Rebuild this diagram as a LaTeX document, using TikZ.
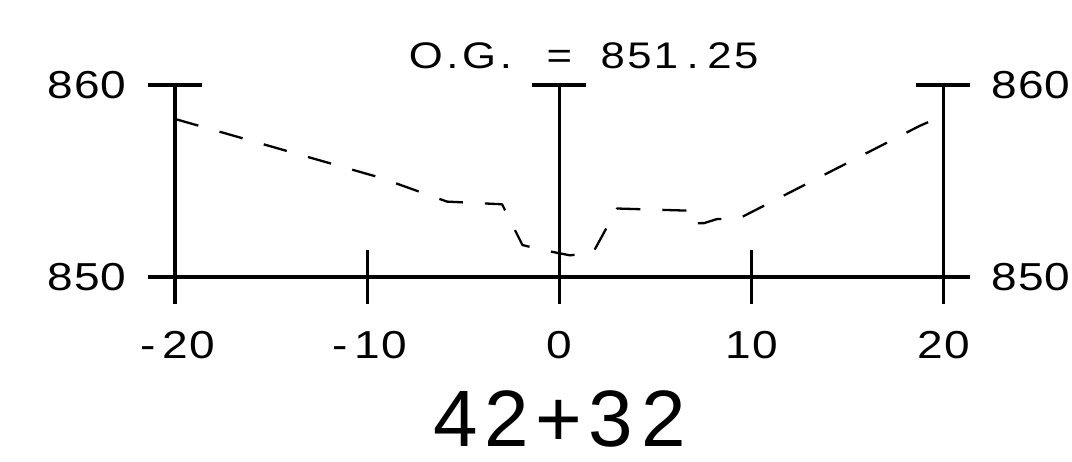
\documentclass[tikz,border=0pt]{standalone}
\usepackage{fontspec}
\setmainfont{Liberation Sans}
\newfontfamily\cadwide[FakeStretch=1.18]{Liberation Sans}
\newlength\cadpitch
\newcommand\cadloop[1]{\ifx#1\relax\else\makebox[\cadpitch]{#1}\expandafter\cadloop\fi}
\newcommand\cadtext[2]{\setlength\cadpitch{#1}\cadloop#2\relax}
\begin{document}
\begin{tikzpicture}[x=9.6pt,y=9.6pt,
  axisline/.style={line width=1.8pt},
  groundline/.style={line width=1.15pt, dash pattern=on 12pt off 11pt, line join=round},
  lbl/.style={inner sep=0pt, font=\cadwide\fontsize{19.5}{20}\selectfont},
  oglbl/.style={inner sep=0pt, font=\cadwide\fontsize{18.5}{19}\selectfont},
  stationlbl/.style={inner sep=0pt, font=\fontsize{40}{42}\selectfont}]
\useasboundingbox (-29.13,-9.58) rectangle (26.70,14.43);
% grid frame
\draw[axisline] (-21.4,0) -- (21.4,0);
\foreach \x in {-20,0,20} {
  \draw[axisline] (\x,-1.4) -- (\x,10);
  \draw[axisline] ({\x-1.4},10) -- ({\x+1.4},10);
}
\foreach \x in {-10,10} \draw[axisline] (\x,-1.4) -- (\x,1.4);
% existing ground
\draw[groundline] (-20,8.23) -- (-9.34,5.18) -- (-5.85,3.93) -- (-2.98,3.79)
  -- (-1.92,1.67) -- (-1.01,1.44) -- (0.56,1.13) -- (1.76,1.28) -- (3.01,3.57)
  -- (6.65,3.46) -- (6.78,2.80) -- (7.54,2.81) -- (8.21,3.02) -- (9.36,3.05)
  -- (18.78,7.88) -- (19.36,8.13) -- (20,8.27);
% elevation labels
\node[lbl] (e860l) at (-24.6,10) {\cadtext{13.25pt}{860}};
\node[lbl] (e850l) at (-24.6,0) {\cadtext{13.25pt}{850}};
\node[lbl] (e860r) at (24.57,10) {\cadtext{13.25pt}{860}};
\node[lbl] (e850r) at (24.57,0) {\cadtext{13.25pt}{850}};
% offset labels
\node[lbl] (om20) at (-20,-3.54) {\cadtext{13.5pt}{-20}};
\node[lbl] (om10) at (-10,-3.54) {\cadtext{13.5pt}{-10}};
\node[lbl] (o0) at (0,-3.54) {\cadtext{13.5pt}{0}};
\node[lbl] (op10) at (10,-3.54) {\cadtext{13.5pt}{10}};
\node[lbl] (op20) at (20,-3.54) {\cadtext{13.5pt}{20}};
% original ground
\node[oglbl] (og) at (1.39,11.51) {\cadtext{13.35pt}{O.G.~=~851.25}};
% station
\node[stationlbl] (sta) at (0,-7.38) {\cadtext{26pt}{42+32}};
\end{tikzpicture}
\end{document}
